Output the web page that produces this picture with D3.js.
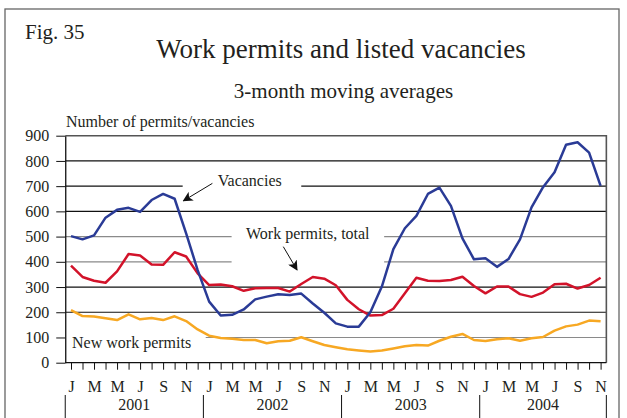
<!DOCTYPE html>
<html>
<head>
<meta charset="utf-8">
<script src="https://cdn.jsdelivr.net/npm/d3@7/dist/d3.min.js"></script>
<style>
  html, body { margin: 0; padding: 0; background: #fff; }
  svg { display: block; }
  text { font-family: "Liberation Serif", "Times New Roman", serif; fill: #231f20; }
</style>
</head>
<body>
<svg id="chart" width="627" height="418"></svg>
<script>
// Monthly 3-month moving averages, Jan 2001 – Nov 2004
const monthLetters = ["J","F","M","A","M","J","J","A","S","O","N","D"];
const years = ["2001","2002","2003","2004"];
const yTicks = [0,100,200,300,400,500,600,700,800,900];

const vacancies = [
  502,489,505,575,606,614,598,645,669,650,513,367,
  242,187,190,211,251,262,271,268,274,235,198,156,
  143,143,200,302,450,533,582,669,694,622,493,410,
  414,380,411,489,616,696,755,864,874,833,701
];
const permitsTotal = [
  385,340,325,317,362,431,425,389,388,438,421,354,
  308,310,303,285,295,296,296,282,312,340,333,307,
  249,212,187,189,214,275,337,325,324,328,341,304,
  275,302,302,272,261,278,311,313,294,308,337
];
const newPermits = [
  208,185,183,176,169,192,172,177,169,184,165,132,
  107,98,95,90,90,77,85,87,101,85,70,61,
  53,48,44,48,56,65,70,68,87,103,114,90,
  86,93,97,87,97,102,127,144,151,167,164
];

const svg = d3.select("#chart");
const n = vacancies.length;

const x = d3.scaleLinear().domain([0, n - 1]).range([71, 600.6]);
const y = d3.scaleLinear().domain([0, 900]).range([362.7, 135.7]);
const xLeft = x(-0.5), xRight = x(n - 0.5);

// Outer figure frame
svg.append("rect")
  .attr("x", 5).attr("y", 9).attr("width", 614).attr("height", 430)
  .attr("fill", "none").attr("stroke", "#666").attr("stroke-width", 1.3);

// Headings
svg.append("text").attr("x", 25).attr("y", 39).attr("font-size", 21).text("Fig. 35");
svg.append("text").attr("x", 341).attr("y", 58).attr("text-anchor", "middle")
  .attr("font-size", 27).text("Work permits and listed vacancies");
svg.append("text").attr("x", 343.5).attr("y", 98).attr("text-anchor", "middle")
  .attr("font-size", 21).text("3-month moving averages");
svg.append("text").attr("x", 66).attr("y", 127).attr("font-size", 16)
  .text("Number of permits/vacancies");

// Horizontal gridlines; some are interrupted where a series label sits
const greyLines = new Set([100, 400, 500]);
const gaps = [
  { v: 700, from: 9.7, to: 20.0 },
  { v: 500, from: 13.95, to: 27.2 },
  { v: 400, from: 13.95, to: 27.2 },
  { v: 100, from: -0.5, to: 11.7 }
];
const grid = svg.append("g");
yTicks.filter(v => v > 0 && v < 900).forEach(v => {
  let segs = [[xLeft, xRight]];
  gaps.filter(g => g.v === v).forEach(g => {
    const a = x(g.from), b = x(g.to);
    segs = segs.flatMap(([s, e]) => {
      const out = [];
      if (a > s) out.push([s, Math.min(a, e)]);
      if (b < e) out.push([Math.max(b, s), e]);
      return out;
    });
  });
  segs.forEach(([s, e]) => {
    grid.append("line")
      .attr("x1", s).attr("x2", e).attr("y1", y(v)).attr("y2", y(v))
      .attr("stroke", greyLines.has(v) ? "#8a8a8a" : "#111")
      .attr("stroke-width", 1.2);
  });
});

// Plot frame (top and right)
svg.append("path")
  .attr("d", `M${xLeft},${y(900)}H${xRight}V${y(0)}`)
  .attr("fill", "none").attr("stroke", "#555").attr("stroke-width", 1.6);

// Y axis
const yAxis = d3.axisLeft(y).tickValues(yTicks).tickSize(9).tickSizeOuter(0).tickPadding(7);
const gy = svg.append("g").attr("transform", `translate(${xLeft},0)`).call(yAxis);
gy.selectAll("text").attr("font-size", 16).style("font-family", null).attr("fill", "#231f20");
gy.selectAll("line").attr("stroke", "#111");
gy.select(".domain").attr("stroke", "#111").attr("stroke-width", 1.3);
gy.attr("font-family", null);

// Zero line
svg.append("line")
  .attr("x1", xLeft).attr("x2", xRight).attr("y1", y(0)).attr("y2", y(0))
  .attr("stroke", "#111").attr("stroke-width", 1.3);

// X axis: a tick for every month, a letter for every other month
const xAxis = d3.axisBottom(x)
  .tickValues(d3.range(0, n))
  .tickSize(7).tickSizeOuter(0).tickPadding(11)
  .tickFormat(i => i % 2 === 0 ? monthLetters[i % 12] : "");
const gx = svg.append("g").attr("transform", `translate(0,${y(0)})`).call(xAxis);
gx.select(".domain").remove();
gx.selectAll("line").attr("stroke", "#111");
gx.selectAll("text").attr("font-size", 16).attr("fill", "#231f20");
gx.attr("font-family", null);

// Year separators and labels
const yearGroup = svg.append("g");
years.forEach((yr, k) => {
  const s = x(k * 12 - 0.5);
  const e = x(Math.min((k + 1) * 12, n) - 0.5);
  yearGroup.append("line").attr("x1", s).attr("x2", s).attr("y1", 395).attr("y2", 418)
    .attr("stroke", "#111").attr("stroke-width", 1);
  if (k === years.length - 1) {
    yearGroup.append("line").attr("x1", e).attr("x2", e).attr("y1", 395).attr("y2", 418)
      .attr("stroke", "#111").attr("stroke-width", 1);
  }
  yearGroup.append("text").attr("x", (s + e) / 2).attr("y", 410)
    .attr("text-anchor", "middle").attr("font-size", 16).text(yr);
});

// Series lines
const line = d3.line().x((d, i) => x(i)).y(d => y(d));
const series = [
  { values: newPermits, color: "#f7a823" },
  { values: permitsTotal, color: "#d2132a" },
  { values: vacancies, color: "#2a3b96" }
];
series.forEach(s => {
  svg.append("path").datum(s.values)
    .attr("d", line)
    .attr("fill", "none")
    .attr("stroke", s.color)
    .attr("stroke-width", 2.5)
    .attr("stroke-linejoin", "round");
});

// Series labels with pointer arrows
svg.append("defs").append("marker")
  .attr("id", "arrowhead")
  .attr("viewBox", "0 0 10 10").attr("refX", 9).attr("refY", 5)
  .attr("markerWidth", 10).attr("markerHeight", 10)
  .attr("markerUnits", "userSpaceOnUse")
  .attr("orient", "auto")
  .append("path").attr("d", "M0,0L10,5L0,10L2.5,5Z").attr("fill", "#111");

svg.append("text").attr("x", x(12.75)).attr("y", y(700)).attr("font-size", 16).text("Vacancies");
svg.append("line")
  .attr("x1", x(12.28)).attr("y1", y(711)).attr("x2", x(9.77)).attr("y2", y(642))
  .attr("stroke", "#111").attr("stroke-width", 1).attr("marker-end", "url(#arrowhead)");

svg.append("text").attr("x", x(15.2)).attr("y", y(489)).attr("font-size", 16).text("Work permits, total");
svg.append("line")
  .attr("x1", x(18.44)).attr("y1", y(460)).attr("x2", x(19.63)).attr("y2", y(368))
  .attr("stroke", "#111").attr("stroke-width", 1).attr("marker-end", "url(#arrowhead)");

svg.append("text").attr("x", x(0.09)).attr("y", y(57)).attr("font-size", 16).text("New work permits");
</script>
</body>
</html>
